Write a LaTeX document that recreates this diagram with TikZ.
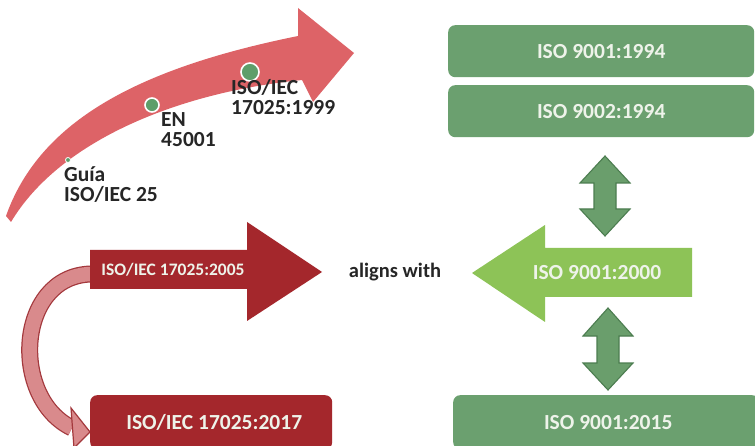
\documentclass[tikz,border=0pt]{standalone}
\usepackage{fontspec}
\setmainfont{Carlito}
\definecolor{bigred}{HTML}{DD6367}
\definecolor{darkred}{HTML}{A4272C}
\definecolor{boxgreen}{HTML}{6BA06F}
\definecolor{dagreen}{HTML}{6A9E6C}
\definecolor{daedge}{HTML}{4C7D50}
\definecolor{lightgreen}{HTML}{8DC357}
\definecolor{pinkfill}{HTML}{D98A8C}
\definecolor{pinkedge}{HTML}{A3383C}
\definecolor{dotgreen}{HTML}{5E9E6A}
\definecolor{txtlight}{HTML}{EEF3EA}
\definecolor{txtdark}{HTML}{262626}
\tikzset{
  boxtext/.style={font=\fontsize{21.5}{24}\selectfont\bfseries, text=txtlight, inner sep=0pt},
  darktext/.style={font=\fontsize{21.5}{20}\selectfont\bfseries, text=txtdark, align=left, anchor=north west, inner sep=0pt},
  gbox/.style={fill=boxgreen, rounded corners=7pt, anchor=north west},
  rbox/.style={fill=darkred, rounded corners=7pt, anchor=north west},
  dblarrow/.style={fill=dagreen, draw=daedge, line width=1.1pt, line join=miter},
  dotmark/.style={circle, fill=dotgreen, draw=white, line width=1.6pt, inner sep=0pt}
}
\begin{document}
\begin{tikzpicture}[x=1pt,y=-1pt]
\useasboundingbox (0,0) rectangle (755,446);
\fill[white] (0,0) rectangle (755,446);

% big curved arrow
\fill[bigred] (6,216) .. controls (40,120) and (140,68) .. (298,36)
  -- (298,8) -- (354,53) -- (313,102) -- (302,80)
  .. controls (180,92) and (60,140) .. (11,222) -- cycle;

% dots
\node[dotmark, minimum size=5pt, line width=0.8pt] (d1) at (68,160) {};
\node[dotmark, minimum size=14pt] (d2) at (152,105) {};
\node[dotmark, minimum size=18pt] (d3) at (250,72) {};

% timeline labels
\node[darktext] (guia) at (64,166) {Guía\\ISO/IEC 25};
\node[darktext] (en) at (161,112) {EN\\45001};
\node[darktext] (iso99) at (231,79) {ISO/IEC\\17025:1999};

% green boxes
\node[gbox, minimum width=306pt, minimum height=52pt] (b94a) at (448,25) {};
\node[boxtext] at (b94a.center) {ISO 9001:1994};
\node[gbox, minimum width=306pt, minimum height=52pt] (b94b) at (448,85) {};
\node[boxtext] at (b94b.center) {ISO 9002:1994};
\node[gbox, minimum width=306pt, minimum height=54pt] (b15) at (453,395) {};
\node[boxtext] at ([xshift=2pt]b15.center) {ISO 9001:2015};

% double arrows
\draw[dblarrow] (605,156) -- (630,183) -- (616,183) -- (616,209) -- (630,209)
  -- (605,236) -- (580,209) -- (594,209) -- (594,183) -- (580,183) -- cycle;
\draw[dblarrow] (608,308) -- (633,336) -- (619,336) -- (619,363) -- (633,363)
  -- (608,390) -- (583,363) -- (597,363) -- (597,336) -- (583,336) -- cycle;

% light green arrow
\fill[lightgreen] (692,248) -- (545,248) -- (545,225) -- (472,273) -- (545,322)
  -- (545,297) -- (692,297) -- cycle;
\node[boxtext] (i2000) at (597,273) {ISO 9001:2000};

% aligns with
\node[font=\fontsize{20.5}{22}\selectfont\bfseries, text=txtdark, inner sep=0pt] (al) at (395,272) {aligns with};

% pink curved arrow
\coordinate (cs) at (91,274);
\coordinate (ce) at (72,428);
\draw[pinkedge, line width=17pt] (cs) .. controls (16,276) and (10,398) .. (ce);
\draw[pinkfill, line width=14.5pt] (cs) .. controls (16,276) and (10,398) .. (ce);
\fill[pinkfill, draw=pinkedge, line width=1.2pt, line join=miter] (71,408) -- (90,432) -- (74,448) -- cycle;

% red arrow 2005
\fill[darkred] (90,250) -- (247,250) -- (247,222) -- (322,272) -- (247,321)
  -- (247,289) -- (90,289) -- cycle;
\node[font=\fontsize{17.5}{20}\selectfont\bfseries, text=txtlight, inner sep=0pt] (i2005) at (173,270) {ISO/IEC 17025:2005};

% red box 2017
\node[rbox, minimum width=242pt, minimum height=54pt] (r17) at (90,395) {};
\node[boxtext] at ([xshift=3pt]r17.center) {ISO/IEC 17025:2017};
\end{tikzpicture}
\end{document}
